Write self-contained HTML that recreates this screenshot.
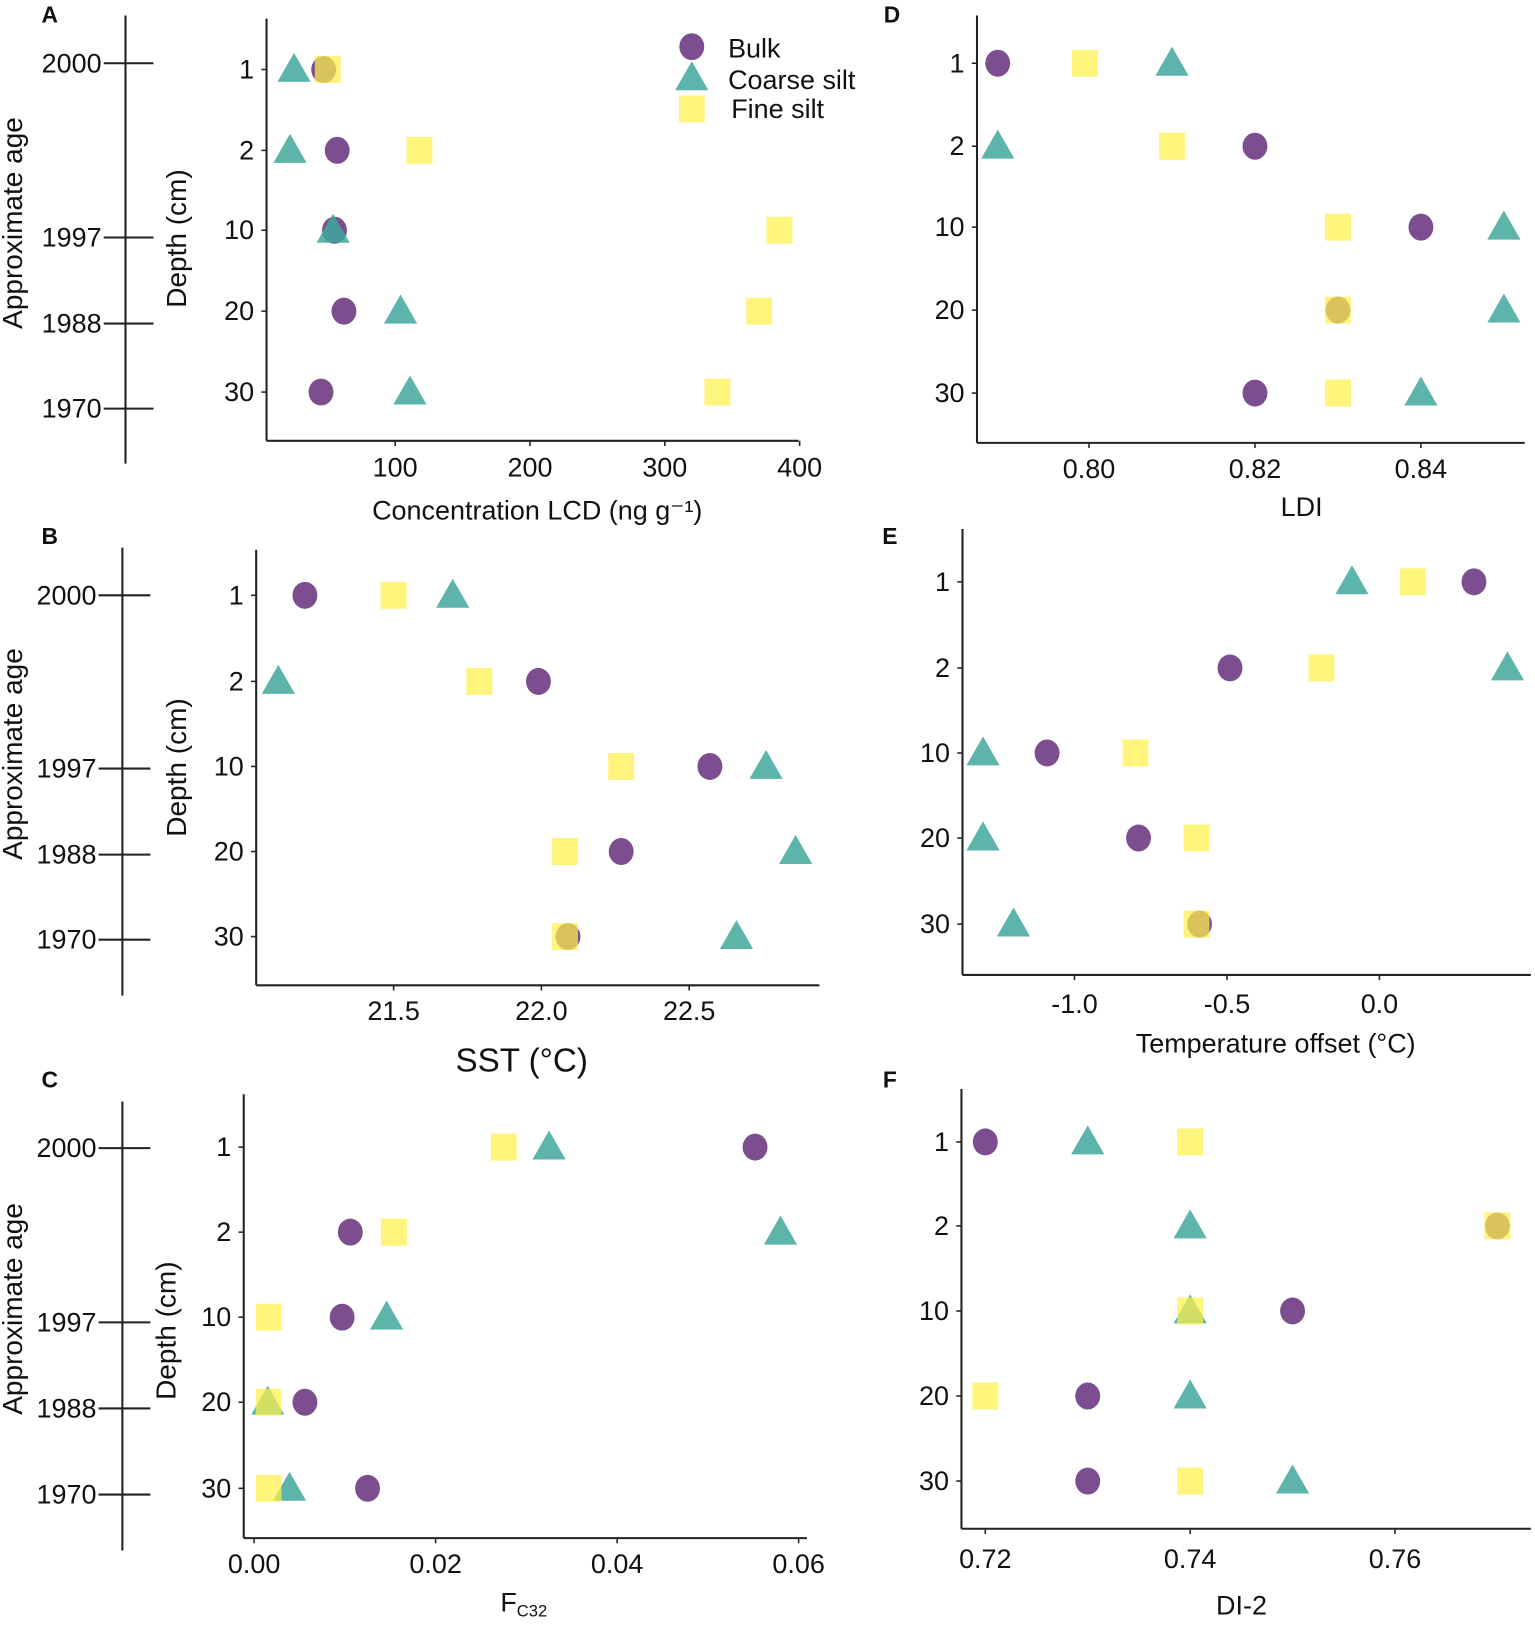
<!DOCTYPE html>
<html><head><meta charset="utf-8"><style>
html,body{margin:0;padding:0;background:#fff;}
svg{display:block;}
text{font-family:"Liberation Sans",sans-serif;fill:#111;}
</style></head><body>
<svg id="fig" width="1535" height="1630" viewBox="0 0 1480 1571.6" preserveAspectRatio="none" xmlns="http://www.w3.org/2000/svg"></svg>
<script>
const depthLabels = ["1","2","10","20","30"];
const ageLabels = ["2000","1997","1988","1970"];
// Panel A: Concentration LCD
const aBulk = [47,57,55,62,45];
const aCoarse = [25,22,54,104,111];
const aFine = [50,118,385,370,339];
const aTicks = [100,200,300,400];
// Panel D: LDI
const dBulk = [0.789,0.82,0.84,0.83,0.82];
const dCoarse = [0.81,0.789,0.85,0.85,0.84];
const dFine = [0.7995,0.81,0.83,0.83,0.83];
const dTicks = [0.80,0.82,0.84];
// Panel B: SST
const bBulk = [21.2,21.99,22.57,22.27,22.09];
const bCoarse = [21.7,21.11,22.76,22.86,22.66];
const bFine = [21.5,21.79,22.27,22.08,22.08];
const bTicks = [21.5,22.0,22.5];
// Panel E: Temperature offset
const eBulk = [0.31,-0.49,-1.09,-0.79,-0.59];
const eCoarse = [-0.09,0.42,-1.3,-1.3,-1.2];
const eFine = [0.11,-0.19,-0.8,-0.6,-0.6];
const eTicks = [-1.0,-0.5,0.0];
// Panel C: FC32
const cBulk = [0.0552,0.0106,0.0097,0.0056,0.0125];
const cCoarse = [0.0325,0.058,0.0146,0.0015,0.0039];
const cFine = [0.0275,0.0154,0.0016,0.0016,0.0016];
const cTicks = [0.00,0.02,0.04,0.06];
// Panel F: DI-2
const fBulk = [0.72,0.77,0.75,0.73,0.73];
const fCoarse = [0.73,0.74,0.74,0.74,0.75];
const fFine = [0.74,0.77,0.74,0.72,0.74];
const fTicks = [0.72,0.74,0.76];

const NS="http://www.w3.org/2000/svg";
const svg=document.getElementById('fig');
function mk(tag,attrs,parent){const e=document.createElementNS(NS,tag);for(const k in attrs)e.setAttribute(k,attrs[k]);(parent||svg).appendChild(e);return e;}
function txt(s,x,y,size,anchor,parent,extra){const t=mk('text',Object.assign({x:x,y:y,'font-size':size,'text-anchor':anchor||'middle','dominant-baseline':'central'},extra||{}),parent);t.textContent=s;return t;}
const COL={bulk:'#6a3680',coarse:'#3fa79b',fine:'#fff04a'};
function circle(g,x,y){const e=mk('ellipse',{cx:x,cy:y,rx:12,ry:13,fill:COL.bulk,'fill-opacity':0.88},g);

}
function tri(g,x,y){const e=mk('polygon',{points:`${x},${y-16} ${x-16},${y+12} ${x+16},${y+12}`,fill:COL.coarse,'fill-opacity':0.85},g);

}
function sq(g,x,y){const e=mk('rect',{x:x-12.5,y:y-13,width:25,height:26,fill:COL.fine,'fill-opacity':0.72},g);

}

function panel(o){
  const g=mk('g',{});
  
  
  const xs=v=>o.px0+(v-o.v0)*o.k;
  txt(o.letter,o.lx,o.ly,22,'middle',g,{'font-weight':'bold'});
  mk('line',{x1:o.ax,y1:o.top,x2:o.ax,y2:o.bot,stroke:'#222','stroke-width':2},g);
  mk('line',{x1:o.ax,y1:o.bot,x2:o.right,y2:o.bot,stroke:'#222','stroke-width':2},g);
  o.ys.forEach((y,i)=>{mk('line',{x1:o.ax-5,y1:y,x2:o.ax,y2:y,stroke:'#222','stroke-width':1.5},g);
    const t=txt(depthLabels[i],o.ax-12,y,26,'end',g);
    
    });
  o.ticks.forEach(v=>{const x=xs(v);mk('line',{x1:x,y1:o.bot,x2:x,y2:o.bot+5,stroke:'#222','stroke-width':1.5},g);
    const t=txt(o.fmt(v),x,o.tly,26,'middle',g);
    
    });
  const tt=txt(o.title,o.tx,o.ty,o.tsize||26,'middle',g);
  
  
  if(o.sub){const s=mk('tspan',{'font-size':16,dy:8},tt);s.textContent=o.sub;}
  if(o.depthTitle){const d=txt('Depth (cm)',0,0,27,'middle',g,{transform:`translate(${o.dtx},${o.dty}) rotate(-90)`});
    
    }
  o.bulk.forEach((v,i)=>circle(g,xs(v),o.ys[i]));
  o.coarse.forEach((v,i)=>tri(g,xs(v),o.ys[i]));
  o.fine.forEach((v,i)=>sq(g,xs(v),o.ys[i]));
}
function ageAxis(x,top,bot,ys,t1,t2,lx,titleY){
  const g=mk('g',{});
  
  
  mk('line',{x1:x,y1:top,x2:x,y2:bot,stroke:'#222','stroke-width':2},g);
  ys.forEach((y,i)=>{mk('line',{x1:t1,y1:y,x2:t2,y2:y,stroke:'#222','stroke-width':2},g);
    const t=txt(ageLabels[i],lx,y,26,'end',g);
    
    });
  const a=txt('Approximate age',0,0,27,'middle',g,{transform:`translate(12,${titleY}) rotate(-90)`});
  
  
}
const f1=v=>v.toFixed(1), f2=v=>v.toFixed(2), f0=v=>String(v);

ageAxis(121,15,447,[61,229,312,394],100,148,98,215);
panel({letter:'A',lx:48,ly:14,ax:257,top:18,bot:425,right:770,px0:251,v0:0,k:1.3,ticks:aTicks,fmt:f0,tly:451,
  ys:[67,145,222,300,378],title:'Concentration LCD (ng g\u207B\u00B9)',tx:518,ty:492,depthTitle:true,dtx:170,dty:230,
  bulk:aBulk,coarse:aCoarse,fine:aFine});
const lg=mk('g',{});


circle(lg,667,45); txt('Bulk',702,47,26,'start',lg);
tri(lg,667,75); txt('Coarse silt',702,77,26,'start',lg);
sq(lg,667,105); txt('Fine silt',705,105,26,'start',lg);

panel({letter:'D',lx:860,ly:14,ax:942,top:15,bot:427,right:1470,px0:1050,v0:0.80,k:8000,ticks:dTicks,fmt:f2,tly:452,
  ys:[61,141,219,299,379],title:'LDI',tx:1255,ty:489,bulk:dBulk,coarse:dCoarse,fine:dFine});

ageAxis(118,528,960,[574,741,824,906],95,145,93,727);
panel({letter:'B',lx:48,ly:517,ax:247,top:530,bot:950,right:790,px0:522,v0:22.0,k:285,ticks:bTicks,fmt:f1,tly:975,
  ys:[574,657,739,821,903],title:'SST (°C)',tx:503,ty:1023,tsize:32,depthTitle:true,dtx:170,dty:740,
  bulk:bBulk,coarse:bCoarse,fine:bFine});
panel({letter:'E',lx:858,ly:517,ax:928,top:510,bot:940,right:1476,px0:1330,v0:0,k:294,ticks:eTicks,fmt:f1,tly:968,
  ys:[561,644,726,808,891],title:'Temperature offset (°C)',tx:1230,ty:1006,bulk:eBulk,coarse:eCoarse,fine:eFine});

ageAxis(118,1062,1495,[1107,1275,1358,1441],95,145,93,1262);
panel({letter:'C',lx:48,ly:1041,ax:235,top:1055,bot:1483,right:778,px0:245,v0:0,k:8750,ticks:cTicks,fmt:f2,tly:1508,
  ys:[1106,1188,1270,1352,1435],title:'F',sub:'C32',tx:505,ty:1545,depthTitle:true,dtx:160,dty:1283,
  bulk:cBulk,coarse:cCoarse,fine:cFine});
panel({letter:'F',lx:858,ly:1041,ax:927,top:1050,bot:1474,right:1476,px0:950,v0:0.72,k:9875,ticks:fTicks,fmt:f2,tly:1503,
  ys:[1101,1182,1264,1346,1428],title:'DI-2',tx:1197,ty:1548,bulk:fBulk,coarse:fCoarse,fine:fFine});
</script>
</body></html>
